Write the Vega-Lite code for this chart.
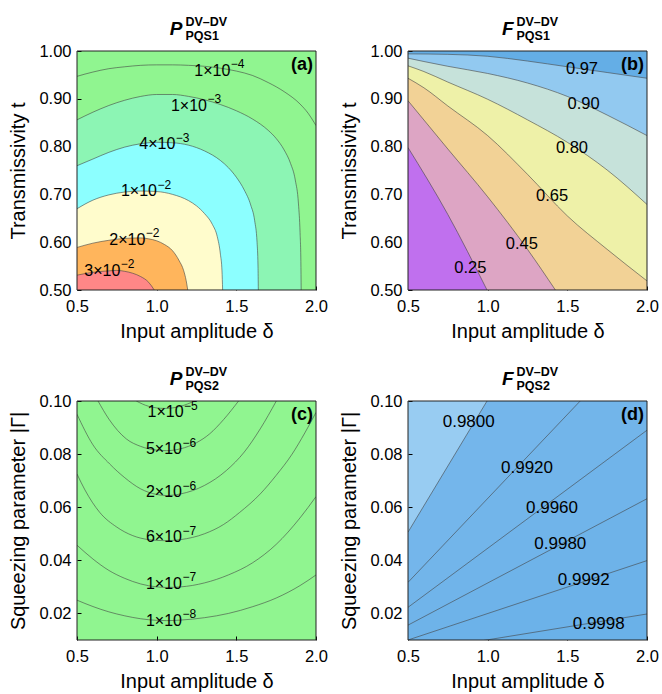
{
"$schema": "https://vega.github.io/schema/vega-lite/v6.json",
"padding": {"left": 8, "top": 16, "right": 5, "bottom": 5},
"background": "white",
"columns": 2,
"bounds": "flush",
"spacing": {"row": 111, "column": 92},
"config": {
  "font": "Liberation Sans",
  "view": {"stroke": null},
  "axis": {"labelFont": "Liberation Sans", "labelFontSize": 16.5, "labelColor": "#000", "titleFont": "Liberation Sans", "titleFontSize": 20, "titleFontWeight": "normal", "titleColor": "#000", "tickColor": "#000", "tickWidth": 1, "tickSize": -4, "domain": false, "grid": false, "zindex": 1, "labelFlush": false, "labelOverlap": false},
  "axisX": {"labelPadding": 12, "titlePadding": 7},
  "axisY": {"labelPadding": 10, "titlePadding": 10}
},
"datasets": {
"a": [
{"c":"1e-4","x":0.5,"y":0.947},{"c":"1e-4","x":0.6,"y":0.956},{"c":"1e-4","x":0.7,"y":0.963},{"c":"1e-4","x":0.8,"y":0.967},{"c":"1e-4","x":0.9,"y":0.970},{"c":"1e-4","x":1.0,"y":0.971},{"c":"1e-4","x":1.1,"y":0.971},{"c":"1e-4","x":1.2,"y":0.970},{"c":"1e-4","x":1.3,"y":0.968},{"c":"1e-4","x":1.4,"y":0.964},{"c":"1e-4","x":1.5,"y":0.958},{"c":"1e-4","x":1.6,"y":0.949},{"c":"1e-4","x":1.7,"y":0.934},{"c":"1e-4","x":1.8,"y":0.915},{"c":"1e-4","x":1.9,"y":0.889},{"c":"1e-4","x":1.95,"y":0.870},{"c":"1e-4","x":2.0,"y":0.844},
{"c":"1e-3","x":0.5,"y":0.856},{"c":"1e-3","x":0.6,"y":0.872},{"c":"1e-3","x":0.7,"y":0.886},{"c":"1e-3","x":0.8,"y":0.897},{"c":"1e-3","x":0.9,"y":0.905},{"c":"1e-3","x":1.0,"y":0.909},{"c":"1e-3","x":1.1,"y":0.909},{"c":"1e-3","x":1.2,"y":0.905},{"c":"1e-3","x":1.3,"y":0.898},{"c":"1e-3","x":1.4,"y":0.888},{"c":"1e-3","x":1.5,"y":0.875},{"c":"1e-3","x":1.6,"y":0.858},{"c":"1e-3","x":1.7,"y":0.834},{"c":"1e-3","x":1.75,"y":0.817},{"c":"1e-3","x":1.8,"y":0.793},{"c":"1e-3","x":1.84,"y":0.765},{"c":"1e-3","x":1.87,"y":0.73},{"c":"1e-3","x":1.89,"y":0.68},{"c":"1e-3","x":1.9,"y":0.62},{"c":"1e-3","x":1.905,"y":0.56},{"c":"1e-3","x":1.907,"y":0.5},
{"c":"4e-3","x":0.5,"y":0.760},{"c":"4e-3","x":0.6,"y":0.774},{"c":"4e-3","x":0.7,"y":0.788},{"c":"4e-3","x":0.8,"y":0.799},{"c":"4e-3","x":0.9,"y":0.806},{"c":"4e-3","x":1.0,"y":0.809},{"c":"4e-3","x":1.1,"y":0.808},{"c":"4e-3","x":1.2,"y":0.803},{"c":"4e-3","x":1.3,"y":0.791},{"c":"4e-3","x":1.4,"y":0.771},{"c":"4e-3","x":1.45,"y":0.756},{"c":"4e-3","x":1.5,"y":0.736},{"c":"4e-3","x":1.55,"y":0.709},{"c":"4e-3","x":1.59,"y":0.678},{"c":"4e-3","x":1.615,"y":0.645},{"c":"4e-3","x":1.63,"y":0.60},{"c":"4e-3","x":1.636,"y":0.55},{"c":"4e-3","x":1.638,"y":0.5},
{"c":"1e-2","x":0.5,"y":0.670},{"c":"1e-2","x":0.6,"y":0.688},{"c":"1e-2","x":0.7,"y":0.699},{"c":"1e-2","x":0.8,"y":0.705},{"c":"1e-2","x":0.9,"y":0.707},{"c":"1e-2","x":1.0,"y":0.706},{"c":"1e-2","x":1.1,"y":0.700},{"c":"1e-2","x":1.2,"y":0.687},{"c":"1e-2","x":1.25,"y":0.676},{"c":"1e-2","x":1.3,"y":0.660},{"c":"1e-2","x":1.35,"y":0.637},{"c":"1e-2","x":1.38,"y":0.612},{"c":"1e-2","x":1.4,"y":0.575},{"c":"1e-2","x":1.41,"y":0.54},{"c":"1e-2","x":1.414,"y":0.5},
{"c":"2e-2","x":0.5,"y":0.589},{"c":"2e-2","x":0.6,"y":0.598},{"c":"2e-2","x":0.7,"y":0.604},{"c":"2e-2","x":0.8,"y":0.608},{"c":"2e-2","x":0.9,"y":0.609},{"c":"2e-2","x":0.95,"y":0.607},{"c":"2e-2","x":1.0,"y":0.603},{"c":"2e-2","x":1.05,"y":0.595},{"c":"2e-2","x":1.1,"y":0.582},{"c":"2e-2","x":1.14,"y":0.562},{"c":"2e-2","x":1.17,"y":0.54},{"c":"2e-2","x":1.185,"y":0.52},{"c":"2e-2","x":1.195,"y":0.5},
{"c":"3e-2","x":0.5,"y":0.531},{"c":"3e-2","x":0.6,"y":0.537},{"c":"3e-2","x":0.7,"y":0.540},{"c":"3e-2","x":0.75,"y":0.541},{"c":"3e-2","x":0.8,"y":0.539},{"c":"3e-2","x":0.85,"y":0.535},{"c":"3e-2","x":0.9,"y":0.528},{"c":"3e-2","x":0.95,"y":0.516},{"c":"3e-2","x":0.985,"y":0.5}
],
"al": [
{"b":"1×10","e":"−4","x":1.393,"y":0.959},{"b":"1×10","e":"−3","x":1.247,"y":0.885},{"b":"4×10","e":"−3","x":1.048,"y":0.805},{"b":"1×10","e":"−2","x":0.933,"y":0.707},{"b":"2×10","e":"−2","x":0.86,"y":0.605},{"b":"3×10","e":"−2","x":0.703,"y":0.540}
],
"b": [
{"c":"0.97","x":0.5,"y":0.994},{"c":"0.97","x":0.75,"y":0.993},{"c":"0.97","x":1.0,"y":0.989},{"c":"0.97","x":1.25,"y":0.979},{"c":"0.97","x":1.5,"y":0.967},{"c":"0.97","x":1.75,"y":0.955},{"c":"0.97","x":2.0,"y":0.943},
{"c":"0.90","x":0.5,"y":0.985},{"c":"0.90","x":0.6,"y":0.978},{"c":"0.90","x":0.75,"y":0.968},{"c":"0.90","x":1.0,"y":0.953},{"c":"0.90","x":1.25,"y":0.933},{"c":"0.90","x":1.5,"y":0.905},{"c":"0.90","x":1.75,"y":0.866},{"c":"0.90","x":2.0,"y":0.823},
{"c":"0.80","x":0.5,"y":0.969},{"c":"0.80","x":0.6,"y":0.957},{"c":"0.80","x":0.75,"y":0.935},{"c":"0.80","x":1.0,"y":0.899},{"c":"0.80","x":1.25,"y":0.856},{"c":"0.80","x":1.5,"y":0.809},{"c":"0.80","x":1.75,"y":0.751},{"c":"0.80","x":2.0,"y":0.679},
{"c":"0.65","x":0.5,"y":0.943},{"c":"0.65","x":0.6,"y":0.923},{"c":"0.65","x":0.75,"y":0.885},{"c":"0.65","x":1.0,"y":0.823},{"c":"0.65","x":1.25,"y":0.742},{"c":"0.65","x":1.5,"y":0.655},{"c":"0.65","x":1.75,"y":0.585},{"c":"0.65","x":2.0,"y":0.519},
{"c":"0.45","x":0.5,"y":0.896},{"c":"0.45","x":0.75,"y":0.795},{"c":"0.45","x":1.0,"y":0.695},{"c":"0.45","x":1.25,"y":0.585},{"c":"0.45","x":1.425,"y":0.5},
{"c":"0.25","x":0.5,"y":0.798},{"c":"0.25","x":0.75,"y":0.658},{"c":"0.25","x":0.996,"y":0.5}
],
"bl": [
{"t":"0.97","x":1.592,"y":0.962},{"t":"0.90","x":1.602,"y":0.889},{"t":"0.80","x":1.529,"y":0.798},{"t":"0.65","x":1.404,"y":0.697},{"t":"0.45","x":1.215,"y":0.596},{"t":"0.25","x":0.891,"y":0.547}
],
"c": [
{"c":"1e-5","x":0.872,"y":0.100},{"c":"1e-5","x":0.95,"y":0.0980},{"c":"1e-5","x":1.05,"y":0.0972},{"c":"1e-5","x":1.15,"y":0.0980},{"c":"1e-5","x":1.238,"y":0.100},
{"c":"5e-6","x":0.632,"y":0.100},{"c":"5e-6","x":0.7,"y":0.0932},{"c":"5e-6","x":0.81,"y":0.0857},{"c":"5e-6","x":0.9,"y":0.0829},{"c":"5e-6","x":1.0,"y":0.0815},{"c":"5e-6","x":1.06,"y":0.0813},{"c":"5e-6","x":1.15,"y":0.0820},{"c":"5e-6","x":1.25,"y":0.0843},{"c":"5e-6","x":1.332,"y":0.0876},{"c":"5e-6","x":1.42,"y":0.0930},{"c":"5e-6","x":1.514,"y":0.100},
{"c":"2e-6","x":0.5,"y":0.0950},{"c":"2e-6","x":0.6,"y":0.0835},{"c":"2e-6","x":0.705,"y":0.0763},{"c":"2e-6","x":0.8,"y":0.0711},{"c":"2e-6","x":0.9,"y":0.0669},{"c":"2e-6","x":1.0,"y":0.0648},{"c":"2e-6","x":1.06,"y":0.0644},{"c":"2e-6","x":1.15,"y":0.0650},{"c":"2e-6","x":1.3,"y":0.0682},{"c":"2e-6","x":1.437,"y":0.0738},{"c":"2e-6","x":1.55,"y":0.0808},{"c":"2e-6","x":1.65,"y":0.0895},{"c":"2e-6","x":1.751,"y":0.100},
{"c":"6e-7","x":0.5,"y":0.0725},{"c":"6e-7","x":0.55,"y":0.0665},{"c":"6e-7","x":0.642,"y":0.0581},{"c":"6e-7","x":0.75,"y":0.0525},{"c":"6e-7","x":0.85,"y":0.0493},{"c":"6e-7","x":0.95,"y":0.0478},{"c":"6e-7","x":1.05,"y":0.0474},{"c":"6e-7","x":1.15,"y":0.0478},{"c":"6e-7","x":1.3,"y":0.0500},{"c":"6e-7","x":1.42,"y":0.0535},{"c":"6e-7","x":1.52,"y":0.0580},{"c":"6e-7","x":1.65,"y":0.0650},{"c":"6e-7","x":1.75,"y":0.0720},{"c":"6e-7","x":1.85,"y":0.0800},{"c":"6e-7","x":1.93,"y":0.0880},{"c":"6e-7","x":2.0,"y":0.0957},
{"c":"1e-7","x":0.5,"y":0.0457},{"c":"1e-7","x":0.6,"y":0.0405},{"c":"1e-7","x":0.7,"y":0.0362},{"c":"1e-7","x":0.8,"y":0.0332},{"c":"1e-7","x":0.9,"y":0.0311},{"c":"1e-7","x":1.0,"y":0.0300},{"c":"1e-7","x":1.06,"y":0.0298},{"c":"1e-7","x":1.15,"y":0.0300},{"c":"1e-7","x":1.3,"y":0.0315},{"c":"1e-7","x":1.45,"y":0.0345},{"c":"1e-7","x":1.6,"y":0.0390},{"c":"1e-7","x":1.75,"y":0.0460},{"c":"1e-7","x":1.9,"y":0.0560},{"c":"1e-7","x":2.0,"y":0.0640},
{"c":"1e-8","x":0.5,"y":0.0250},{"c":"1e-8","x":0.6,"y":0.0226},{"c":"1e-8","x":0.7,"y":0.0206},{"c":"1e-8","x":0.8,"y":0.0191},{"c":"1e-8","x":0.9,"y":0.0180},{"c":"1e-8","x":1.0,"y":0.0174},{"c":"1e-8","x":1.06,"y":0.0173},{"c":"1e-8","x":1.15,"y":0.0175},{"c":"1e-8","x":1.3,"y":0.0184},{"c":"1e-8","x":1.45,"y":0.0200},{"c":"1e-8","x":1.6,"y":0.0225},{"c":"1e-8","x":1.75,"y":0.0258},{"c":"1e-8","x":1.9,"y":0.0305},{"c":"1e-8","x":2.0,"y":0.0345}
],
"cl": [
{"b":"1×10","e":"−5","x":1.10,"y":0.0957},{"b":"5×10","e":"−6","x":1.09,"y":0.0819},{"b":"2×10","e":"−6","x":1.09,"y":0.0656},{"b":"6×10","e":"−7","x":1.09,"y":0.0487},{"b":"1×10","e":"−7","x":1.09,"y":0.0311},{"b":"1×10","e":"−8","x":1.09,"y":0.0173}
],
"d": [
{"c":"0.9800","x":0.5,"y":0.0506},{"c":"0.9800","x":2.0,"y":0.200},
{"c":"0.9920","x":0.5,"y":0.0317},{"c":"0.9920","x":2.0,"y":0.1265},
{"c":"0.9960","x":0.5,"y":0.0223},{"c":"0.9960","x":2.0,"y":0.089},
{"c":"0.9980","x":0.5,"y":0.0156},{"c":"0.9980","x":2.0,"y":0.0632},
{"c":"0.9992","x":0.5,"y":0.0100},{"c":"0.9992","x":2.0,"y":0.0399},
{"c":"0.9998","x":0.5,"y":0.0052},{"c":"0.9998","x":2.0,"y":0.0198}
],
"dl": [
{"t":"0.9800","x":0.881,"y":0.0922},{"t":"0.9920","x":1.247,"y":0.0746},{"t":"0.9960","x":1.404,"y":0.0597},{"t":"0.9980","x":1.456,"y":0.0462},{"t":"0.9992","x":1.603,"y":0.0327},{"t":"0.9998","x":1.697,"y":0.016}
]
},
"concat": [
{
"width": 239, "height": 239,
"view": {"fill": "#90F590", "stroke": null},
"layer": [
{"data": {"name": "a"}, "transform": [{"filter": "datum.c == '1e-3'"}], "mark": {"type": "area", "clip": true, "color": "#8CF5B4", "interpolate": "monotone"},
 "encoding": {"x": {"field": "x", "type": "quantitative", "scale": {"domain": [0.5, 2], "nice": false}, "axis": {"title": "Input amplitude δ", "values": [0.5, 1, 1.5, 2], "format": ".1f"}},
  "y": {"field": "y", "type": "quantitative", "scale": {"domain": [0.5, 1], "nice": false}, "axis": {"title": "Transmissivity t", "values": [0.5, 0.6, 0.7, 0.8, 0.9, 1.0], "format": ".2f"}},
  "y2": {"datum": 0.5}}},
{"data": {"name": "a"}, "transform": [{"filter": "datum.c == '4e-3'"}], "mark": {"type": "area", "clip": true, "color": "#8CFFFF", "interpolate": "monotone"},
 "encoding": {"x": {"field": "x", "type": "quantitative", "scale": {"domain": [0.5, 2], "nice": false}}, "y": {"field": "y", "type": "quantitative", "scale": {"domain": [0.5, 1], "nice": false}}, "y2": {"datum": 0.5}}},
{"data": {"name": "a"}, "transform": [{"filter": "datum.c == '1e-2'"}], "mark": {"type": "area", "clip": true, "color": "#FFFCCC", "interpolate": "monotone"},
 "encoding": {"x": {"field": "x", "type": "quantitative", "scale": {"domain": [0.5, 2], "nice": false}}, "y": {"field": "y", "type": "quantitative", "scale": {"domain": [0.5, 1], "nice": false}}, "y2": {"datum": 0.5}}},
{"data": {"name": "a"}, "transform": [{"filter": "datum.c == '2e-2'"}], "mark": {"type": "area", "clip": true, "color": "#FFB55C", "interpolate": "monotone"},
 "encoding": {"x": {"field": "x", "type": "quantitative", "scale": {"domain": [0.5, 2], "nice": false}}, "y": {"field": "y", "type": "quantitative", "scale": {"domain": [0.5, 1], "nice": false}}, "y2": {"datum": 0.5}}},
{"data": {"name": "a"}, "transform": [{"filter": "datum.c == '3e-2'"}], "mark": {"type": "area", "clip": true, "color": "#FF8787", "interpolate": "monotone"},
 "encoding": {"x": {"field": "x", "type": "quantitative", "scale": {"domain": [0.5, 2], "nice": false}}, "y": {"field": "y", "type": "quantitative", "scale": {"domain": [0.5, 1], "nice": false}}, "y2": {"datum": 0.5}}},
{"data": {"name": "a"}, "mark": {"type": "line", "clip": true, "color": "#444", "strokeWidth": 0.7, "opacity": 0.85, "interpolate": "monotone"},
 "encoding": {"x": {"field": "x", "type": "quantitative", "scale": {"domain": [0.5, 2], "nice": false}}, "y": {"field": "y", "type": "quantitative", "scale": {"domain": [0.5, 1], "nice": false}}, "detail": {"field": "c"}}},
{"data": {"name": "al"}, "mark": {"type": "text", "font": "Liberation Sans", "fontSize": 16, "color": "#000", "align": "right", "baseline": "middle", "dx": 11},
 "encoding": {"x": {"field": "x", "type": "quantitative", "scale": {"domain": [0.5, 2], "nice": false}}, "y": {"field": "y", "type": "quantitative", "scale": {"domain": [0.5, 1], "nice": false}}, "text": {"field": "b"}}},
{"data": {"name": "al"}, "mark": {"type": "text", "font": "Liberation Sans", "fontSize": 12, "color": "#000", "align": "left", "baseline": "middle", "dx": 11.5, "dy": -6.5},
 "encoding": {"x": {"field": "x", "type": "quantitative", "scale": {"domain": [0.5, 2], "nice": false}}, "y": {"field": "y", "type": "quantitative", "scale": {"domain": [0.5, 1], "nice": false}}, "text": {"field": "e"}}},
{"data": {"values": [{}]}, "mark": {"type": "rect", "fill": "transparent", "stroke": "#222", "strokeWidth": 1},
 "encoding": {"x": {"datum": 0.5, "type": "quantitative", "scale": {"domain": [0.5, 2], "nice": false}}, "x2": {"datum": 2}, "y": {"datum": 0.5, "type": "quantitative", "scale": {"domain": [0.5, 1], "nice": false}}, "y2": {"datum": 1}}},
{"data": {"values": [{}]}, "mark": {"type": "text", "text": "(a)", "font": "Liberation Sans", "fontSize": 18, "fontWeight": "bold", "align": "right", "baseline": "alphabetic", "dx": -3, "dy": 19},
 "encoding": {"x": {"datum": 2, "type": "quantitative", "scale": {"domain": [0.5, 2], "nice": false}}, "y": {"datum": 1, "type": "quantitative", "scale": {"domain": [0.5, 1], "nice": false}}}},
{"data": {"values": [{}]}, "mark": {"type": "text", "text": "P", "font": "Liberation Sans", "fontSize": 19, "fontWeight": "bold", "fontStyle": "italic", "align": "right", "baseline": "alphabetic", "dx": -14, "dy": -16},
 "encoding": {"x": {"datum": 1.25, "type": "quantitative", "scale": {"domain": [0.5, 2], "nice": false}}, "y": {"datum": 1, "type": "quantitative", "scale": {"domain": [0.5, 1], "nice": false}}}},
{"data": {"values": [{}]}, "mark": {"type": "text", "text": "DV–DV", "font": "Liberation Sans", "fontSize": 12.5, "fontWeight": "bold", "align": "left", "baseline": "alphabetic", "dx": -11, "dy": -25},
 "encoding": {"x": {"datum": 1.25, "type": "quantitative", "scale": {"domain": [0.5, 2], "nice": false}}, "y": {"datum": 1, "type": "quantitative", "scale": {"domain": [0.5, 1], "nice": false}}}},
{"data": {"values": [{}]}, "mark": {"type": "text", "text": "PQS1", "font": "Liberation Sans", "fontSize": 12.5, "fontWeight": "bold", "align": "left", "baseline": "alphabetic", "dx": -11, "dy": -11.5},
 "encoding": {"x": {"datum": 1.25, "type": "quantitative", "scale": {"domain": [0.5, 2], "nice": false}}, "y": {"datum": 1, "type": "quantitative", "scale": {"domain": [0.5, 1], "nice": false}}}}
]
},
{
"width": 239, "height": 239,
"view": {"fill": "#64AEE6", "stroke": null},
"layer": [
{"data": {"name": "b"}, "transform": [{"filter": "datum.c == '0.97'"}], "mark": {"type": "area", "clip": true, "color": "#92C9F0", "interpolate": "monotone"},
 "encoding": {"x": {"field": "x", "type": "quantitative", "scale": {"domain": [0.5, 2], "nice": false}, "axis": {"title": "Input amplitude δ", "values": [0.5, 1, 1.5, 2], "format": ".1f"}},
  "y": {"field": "y", "type": "quantitative", "scale": {"domain": [0.5, 1], "nice": false}, "axis": {"title": "Transmissivity t", "values": [0.5, 0.6, 0.7, 0.8, 0.9, 1.0], "format": ".2f"}},
  "y2": {"datum": 0.5}}},
{"data": {"name": "b"}, "transform": [{"filter": "datum.c == '0.90'"}], "mark": {"type": "area", "clip": true, "color": "#C6E2DA", "interpolate": "monotone"},
 "encoding": {"x": {"field": "x", "type": "quantitative", "scale": {"domain": [0.5, 2], "nice": false}}, "y": {"field": "y", "type": "quantitative", "scale": {"domain": [0.5, 1], "nice": false}}, "y2": {"datum": 0.5}}},
{"data": {"name": "b"}, "transform": [{"filter": "datum.c == '0.80'"}], "mark": {"type": "area", "clip": true, "color": "#EEF1A8", "interpolate": "monotone"},
 "encoding": {"x": {"field": "x", "type": "quantitative", "scale": {"domain": [0.5, 2], "nice": false}}, "y": {"field": "y", "type": "quantitative", "scale": {"domain": [0.5, 1], "nice": false}}, "y2": {"datum": 0.5}}},
{"data": {"name": "b"}, "transform": [{"filter": "datum.c == '0.65'"}], "mark": {"type": "area", "clip": true, "color": "#F2D296", "interpolate": "monotone"},
 "encoding": {"x": {"field": "x", "type": "quantitative", "scale": {"domain": [0.5, 2], "nice": false}}, "y": {"field": "y", "type": "quantitative", "scale": {"domain": [0.5, 1], "nice": false}}, "y2": {"datum": 0.5}}},
{"data": {"name": "b"}, "transform": [{"filter": "datum.c == '0.45'"}], "mark": {"type": "area", "clip": true, "color": "#DDA5C4", "interpolate": "monotone"},
 "encoding": {"x": {"field": "x", "type": "quantitative", "scale": {"domain": [0.5, 2], "nice": false}}, "y": {"field": "y", "type": "quantitative", "scale": {"domain": [0.5, 1], "nice": false}}, "y2": {"datum": 0.5}}},
{"data": {"name": "b"}, "transform": [{"filter": "datum.c == '0.25'"}], "mark": {"type": "area", "clip": true, "color": "#C070EE", "interpolate": "monotone"},
 "encoding": {"x": {"field": "x", "type": "quantitative", "scale": {"domain": [0.5, 2], "nice": false}}, "y": {"field": "y", "type": "quantitative", "scale": {"domain": [0.5, 1], "nice": false}}, "y2": {"datum": 0.5}}},
{"data": {"name": "b"}, "mark": {"type": "line", "clip": true, "color": "#444", "strokeWidth": 0.7, "opacity": 0.85, "interpolate": "monotone"},
 "encoding": {"x": {"field": "x", "type": "quantitative", "scale": {"domain": [0.5, 2], "nice": false}}, "y": {"field": "y", "type": "quantitative", "scale": {"domain": [0.5, 1], "nice": false}}, "detail": {"field": "c"}}},
{"data": {"name": "bl"}, "mark": {"type": "text", "font": "Liberation Sans", "fontSize": 16.5, "color": "#000", "align": "center", "baseline": "middle"},
 "encoding": {"x": {"field": "x", "type": "quantitative", "scale": {"domain": [0.5, 2], "nice": false}}, "y": {"field": "y", "type": "quantitative", "scale": {"domain": [0.5, 1], "nice": false}}, "text": {"field": "t"}}},
{"data": {"values": [{}]}, "mark": {"type": "rect", "fill": "transparent", "stroke": "#222", "strokeWidth": 1},
 "encoding": {"x": {"datum": 0.5, "type": "quantitative", "scale": {"domain": [0.5, 2], "nice": false}}, "x2": {"datum": 2}, "y": {"datum": 0.5, "type": "quantitative", "scale": {"domain": [0.5, 1], "nice": false}}, "y2": {"datum": 1}}},
{"data": {"values": [{}]}, "mark": {"type": "text", "text": "(b)", "font": "Liberation Sans", "fontSize": 18, "fontWeight": "bold", "align": "right", "baseline": "alphabetic", "dx": -3, "dy": 19},
 "encoding": {"x": {"datum": 2, "type": "quantitative", "scale": {"domain": [0.5, 2], "nice": false}}, "y": {"datum": 1, "type": "quantitative", "scale": {"domain": [0.5, 1], "nice": false}}}},
{"data": {"values": [{}]}, "mark": {"type": "text", "text": "F", "font": "Liberation Sans", "fontSize": 19, "fontWeight": "bold", "fontStyle": "italic", "align": "right", "baseline": "alphabetic", "dx": -14, "dy": -16},
 "encoding": {"x": {"datum": 1.25, "type": "quantitative", "scale": {"domain": [0.5, 2], "nice": false}}, "y": {"datum": 1, "type": "quantitative", "scale": {"domain": [0.5, 1], "nice": false}}}},
{"data": {"values": [{}]}, "mark": {"type": "text", "text": "DV–DV", "font": "Liberation Sans", "fontSize": 12.5, "fontWeight": "bold", "align": "left", "baseline": "alphabetic", "dx": -11, "dy": -25},
 "encoding": {"x": {"datum": 1.25, "type": "quantitative", "scale": {"domain": [0.5, 2], "nice": false}}, "y": {"datum": 1, "type": "quantitative", "scale": {"domain": [0.5, 1], "nice": false}}}},
{"data": {"values": [{}]}, "mark": {"type": "text", "text": "PQS1", "font": "Liberation Sans", "fontSize": 12.5, "fontWeight": "bold", "align": "left", "baseline": "alphabetic", "dx": -11, "dy": -11.5},
 "encoding": {"x": {"datum": 1.25, "type": "quantitative", "scale": {"domain": [0.5, 2], "nice": false}}, "y": {"datum": 1, "type": "quantitative", "scale": {"domain": [0.5, 1], "nice": false}}}}
]
},
{
"width": 239, "height": 239,
"view": {"fill": "#90F590", "stroke": null},
"layer": [
{"data": {"name": "c"}, "mark": {"type": "line", "clip": true, "color": "#444", "strokeWidth": 0.7, "opacity": 0.85, "interpolate": "monotone"},
 "encoding": {"x": {"field": "x", "type": "quantitative", "scale": {"domain": [0.5, 2], "nice": false}, "axis": {"title": "Input amplitude δ", "values": [0.5, 1, 1.5, 2], "format": ".1f"}},
  "y": {"field": "y", "type": "quantitative", "scale": {"domain": [0.01, 0.1], "nice": false}, "axis": {"title": "Squeezing parameter |Γ|", "values": [0.02, 0.04, 0.06, 0.08, 0.1], "format": ".2f"}},
  "detail": {"field": "c"}}},
{"data": {"name": "cl"}, "mark": {"type": "text", "font": "Liberation Sans", "fontSize": 16, "color": "#000", "align": "right", "baseline": "middle", "dx": 11},
 "encoding": {"x": {"field": "x", "type": "quantitative", "scale": {"domain": [0.5, 2], "nice": false}}, "y": {"field": "y", "type": "quantitative", "scale": {"domain": [0.01, 0.1], "nice": false}}, "text": {"field": "b"}}},
{"data": {"name": "cl"}, "mark": {"type": "text", "font": "Liberation Sans", "fontSize": 12, "color": "#000", "align": "left", "baseline": "middle", "dx": 11.5, "dy": -6.5},
 "encoding": {"x": {"field": "x", "type": "quantitative", "scale": {"domain": [0.5, 2], "nice": false}}, "y": {"field": "y", "type": "quantitative", "scale": {"domain": [0.01, 0.1], "nice": false}}, "text": {"field": "e"}}},
{"data": {"values": [{}]}, "mark": {"type": "rect", "fill": "transparent", "stroke": "#222", "strokeWidth": 1},
 "encoding": {"x": {"datum": 0.5, "type": "quantitative", "scale": {"domain": [0.5, 2], "nice": false}}, "x2": {"datum": 2}, "y": {"datum": 0.01, "type": "quantitative", "scale": {"domain": [0.01, 0.1], "nice": false}}, "y2": {"datum": 0.1}}},
{"data": {"values": [{}]}, "mark": {"type": "text", "text": "(c)", "font": "Liberation Sans", "fontSize": 18, "fontWeight": "bold", "align": "right", "baseline": "alphabetic", "dx": -3, "dy": 19},
 "encoding": {"x": {"datum": 2, "type": "quantitative", "scale": {"domain": [0.5, 2], "nice": false}}, "y": {"datum": 0.1, "type": "quantitative", "scale": {"domain": [0.01, 0.1], "nice": false}}}},
{"data": {"values": [{}]}, "mark": {"type": "text", "text": "P", "font": "Liberation Sans", "fontSize": 19, "fontWeight": "bold", "fontStyle": "italic", "align": "right", "baseline": "alphabetic", "dx": -14, "dy": -16},
 "encoding": {"x": {"datum": 1.25, "type": "quantitative", "scale": {"domain": [0.5, 2], "nice": false}}, "y": {"datum": 0.1, "type": "quantitative", "scale": {"domain": [0.01, 0.1], "nice": false}}}},
{"data": {"values": [{}]}, "mark": {"type": "text", "text": "DV–DV", "font": "Liberation Sans", "fontSize": 12.5, "fontWeight": "bold", "align": "left", "baseline": "alphabetic", "dx": -11, "dy": -25},
 "encoding": {"x": {"datum": 1.25, "type": "quantitative", "scale": {"domain": [0.5, 2], "nice": false}}, "y": {"datum": 0.1, "type": "quantitative", "scale": {"domain": [0.01, 0.1], "nice": false}}}},
{"data": {"values": [{}]}, "mark": {"type": "text", "text": "PQS2", "font": "Liberation Sans", "fontSize": 12.5, "fontWeight": "bold", "align": "left", "baseline": "alphabetic", "dx": -11, "dy": -11.5},
 "encoding": {"x": {"datum": 1.25, "type": "quantitative", "scale": {"domain": [0.5, 2], "nice": false}}, "y": {"datum": 0.1, "type": "quantitative", "scale": {"domain": [0.01, 0.1], "nice": false}}}}
]
},
{
"width": 239, "height": 239,
"view": {"fill": "#98CCF2", "stroke": null},
"layer": [
{"data": {"name": "d"}, "transform": [{"filter": "datum.c == '0.9800'"}], "mark": {"type": "area", "clip": true, "color": "#74B6EB"},
 "encoding": {"x": {"field": "x", "type": "quantitative", "scale": {"domain": [0.5, 2], "nice": false}, "axis": {"title": "Input amplitude δ", "values": [0.5, 1, 1.5, 2], "format": ".1f"}},
  "y": {"field": "y", "type": "quantitative", "scale": {"domain": [0.01, 0.1], "nice": false}, "axis": {"title": "Squeezing parameter |Γ|", "values": [0.02, 0.04, 0.06, 0.08, 0.1], "format": ".2f"}},
  "y2": {"datum": 0.01}}},
{"data": {"name": "d"}, "transform": [{"filter": "datum.c == '0.9920'"}], "mark": {"type": "area", "clip": true, "color": "#72B5EA"},
 "encoding": {"x": {"field": "x", "type": "quantitative", "scale": {"domain": [0.5, 2], "nice": false}}, "y": {"field": "y", "type": "quantitative", "scale": {"domain": [0.01, 0.1], "nice": false}}, "y2": {"datum": 0.01}}},
{"data": {"name": "d"}, "transform": [{"filter": "datum.c == '0.9960'"}], "mark": {"type": "area", "clip": true, "color": "#70B4EA"},
 "encoding": {"x": {"field": "x", "type": "quantitative", "scale": {"domain": [0.5, 2], "nice": false}}, "y": {"field": "y", "type": "quantitative", "scale": {"domain": [0.01, 0.1], "nice": false}}, "y2": {"datum": 0.01}}},
{"data": {"name": "d"}, "transform": [{"filter": "datum.c == '0.9980'"}], "mark": {"type": "area", "clip": true, "color": "#6EB3E9"},
 "encoding": {"x": {"field": "x", "type": "quantitative", "scale": {"domain": [0.5, 2], "nice": false}}, "y": {"field": "y", "type": "quantitative", "scale": {"domain": [0.01, 0.1], "nice": false}}, "y2": {"datum": 0.01}}},
{"data": {"name": "d"}, "transform": [{"filter": "datum.c == '0.9992'"}], "mark": {"type": "area", "clip": true, "color": "#6CB2E9"},
 "encoding": {"x": {"field": "x", "type": "quantitative", "scale": {"domain": [0.5, 2], "nice": false}}, "y": {"field": "y", "type": "quantitative", "scale": {"domain": [0.01, 0.1], "nice": false}}, "y2": {"datum": 0.01}}},
{"data": {"name": "d"}, "transform": [{"filter": "datum.c == '0.9998'"}], "mark": {"type": "area", "clip": true, "color": "#6AB1E8"},
 "encoding": {"x": {"field": "x", "type": "quantitative", "scale": {"domain": [0.5, 2], "nice": false}}, "y": {"field": "y", "type": "quantitative", "scale": {"domain": [0.01, 0.1], "nice": false}}, "y2": {"datum": 0.01}}},
{"data": {"name": "d"}, "mark": {"type": "line", "clip": true, "color": "#444", "strokeWidth": 0.7, "opacity": 0.85},
 "encoding": {"x": {"field": "x", "type": "quantitative", "scale": {"domain": [0.5, 2], "nice": false}}, "y": {"field": "y", "type": "quantitative", "scale": {"domain": [0.01, 0.1], "nice": false}}, "detail": {"field": "c"}}},
{"data": {"name": "dl"}, "mark": {"type": "text", "font": "Liberation Sans", "fontSize": 17, "color": "#000", "align": "center", "baseline": "middle"},
 "encoding": {"x": {"field": "x", "type": "quantitative", "scale": {"domain": [0.5, 2], "nice": false}}, "y": {"field": "y", "type": "quantitative", "scale": {"domain": [0.01, 0.1], "nice": false}}, "text": {"field": "t"}}},
{"data": {"values": [{}]}, "mark": {"type": "rect", "fill": "transparent", "stroke": "#222", "strokeWidth": 1},
 "encoding": {"x": {"datum": 0.5, "type": "quantitative", "scale": {"domain": [0.5, 2], "nice": false}}, "x2": {"datum": 2}, "y": {"datum": 0.01, "type": "quantitative", "scale": {"domain": [0.01, 0.1], "nice": false}}, "y2": {"datum": 0.1}}},
{"data": {"values": [{}]}, "mark": {"type": "text", "text": "(d)", "font": "Liberation Sans", "fontSize": 18, "fontWeight": "bold", "align": "right", "baseline": "alphabetic", "dx": -3, "dy": 19},
 "encoding": {"x": {"datum": 2, "type": "quantitative", "scale": {"domain": [0.5, 2], "nice": false}}, "y": {"datum": 0.1, "type": "quantitative", "scale": {"domain": [0.01, 0.1], "nice": false}}}},
{"data": {"values": [{}]}, "mark": {"type": "text", "text": "F", "font": "Liberation Sans", "fontSize": 19, "fontWeight": "bold", "fontStyle": "italic", "align": "right", "baseline": "alphabetic", "dx": -14, "dy": -16},
 "encoding": {"x": {"datum": 1.25, "type": "quantitative", "scale": {"domain": [0.5, 2], "nice": false}}, "y": {"datum": 0.1, "type": "quantitative", "scale": {"domain": [0.01, 0.1], "nice": false}}}},
{"data": {"values": [{}]}, "mark": {"type": "text", "text": "DV–DV", "font": "Liberation Sans", "fontSize": 12.5, "fontWeight": "bold", "align": "left", "baseline": "alphabetic", "dx": -11, "dy": -25},
 "encoding": {"x": {"datum": 1.25, "type": "quantitative", "scale": {"domain": [0.5, 2], "nice": false}}, "y": {"datum": 0.1, "type": "quantitative", "scale": {"domain": [0.01, 0.1], "nice": false}}}},
{"data": {"values": [{}]}, "mark": {"type": "text", "text": "PQS2", "font": "Liberation Sans", "fontSize": 12.5, "fontWeight": "bold", "align": "left", "baseline": "alphabetic", "dx": -11, "dy": -11.5},
 "encoding": {"x": {"datum": 1.25, "type": "quantitative", "scale": {"domain": [0.5, 2], "nice": false}}, "y": {"datum": 0.1, "type": "quantitative", "scale": {"domain": [0.01, 0.1], "nice": false}}}}
]
}
]
}
